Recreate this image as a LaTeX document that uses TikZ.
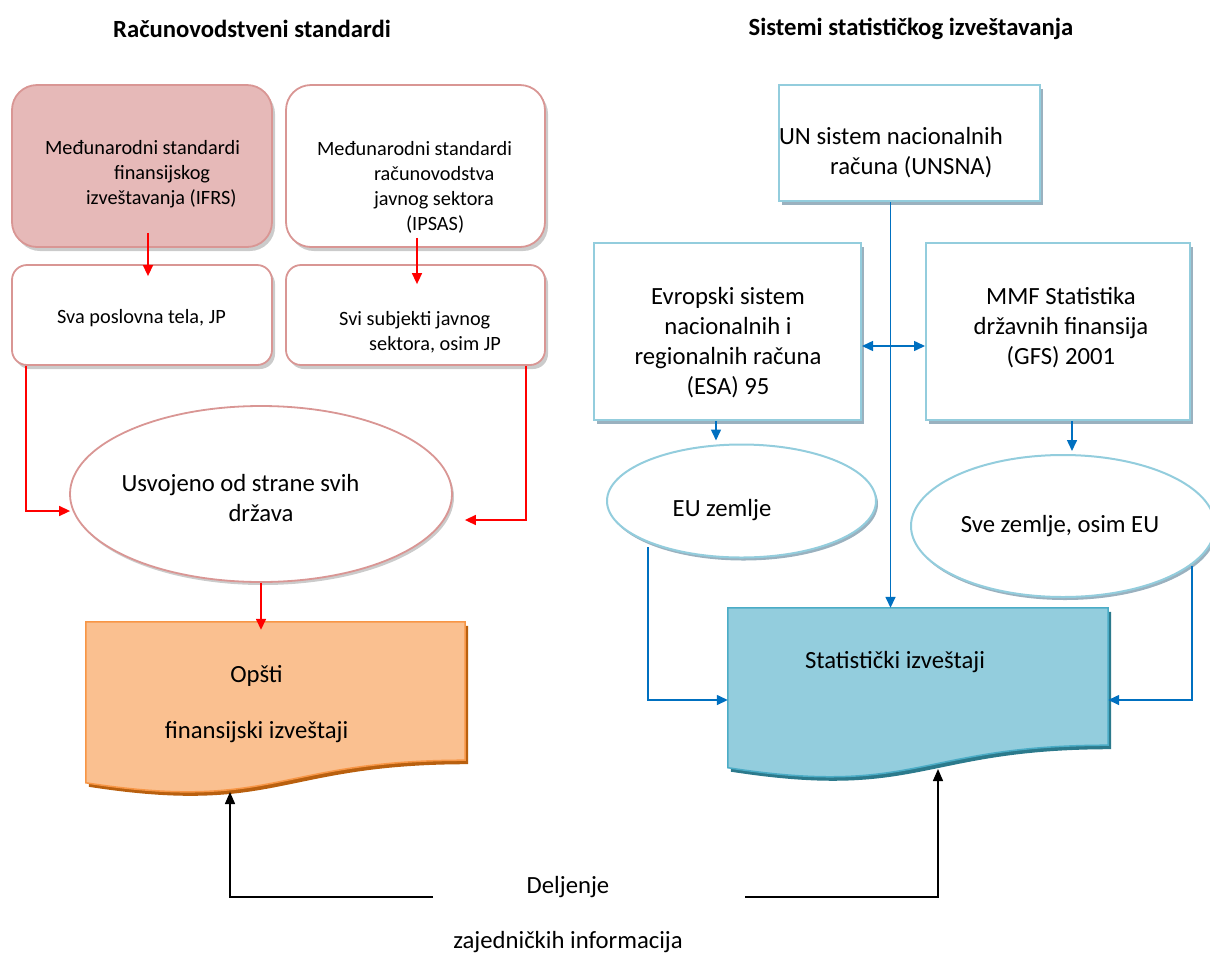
\documentclass[tikz,border=0pt]{standalone}
\usepackage{fontspec}
\setmainfont{Carlito}
\usetikzlibrary{arrows.meta,calc,shapes.geometric,shadows}
\definecolor{pinkfill}{HTML}{E6B9B8}
\definecolor{pinkline}{HTML}{D99694}
\definecolor{blueline}{HTML}{93CDDD}
\definecolor{arrowblue}{HTML}{0070C0}
\definecolor{statfill}{HTML}{93CDDD}
\definecolor{statline}{HTML}{4BACC6}
\definecolor{statshadow}{HTML}{2C7A8C}
\definecolor{orfill}{HTML}{FAC090}
\definecolor{orline}{HTML}{F79646}
\definecolor{orshadow}{HTML}{B9600F}
\definecolor{blueshadow}{HTML}{8FA9B8}
\newcommand\fntA{\fontsize{24.7pt}{30pt}\selectfont}
\newcommand\fntB{\fontsize{20.3pt}{25pt}\selectfont}
\begin{document}
\begin{tikzpicture}[x=1pt,y=-1pt,
  redbox/.style={draw=pinkline, line width=1.8pt, rounded corners=25pt, inner sep=0pt,
    drop shadow={shadow xshift=3pt, shadow yshift=-4pt, fill=black!45, opacity=0.45}},
  redsmall/.style={redbox, rounded corners=15pt, fill=white},
  bluebox/.style={draw=blueline, line width=2pt, fill=white, inner sep=0pt,
    drop shadow={shadow xshift=3pt, shadow yshift=-4pt, fill=blueshadow, opacity=0.9}},
  redell/.style={ellipse, draw=pinkline, line width=1.8pt, fill=white, inner sep=0pt,
    drop shadow={shadow xshift=2pt, shadow yshift=-3pt, fill=black!45, opacity=0.45}},
  blueell/.style={ellipse, draw=blueline, line width=2pt, fill=white, inner sep=0pt,
    drop shadow={shadow xshift=2pt, shadow yshift=-3pt, fill=blueshadow, opacity=0.9}},
  docbase/.style={inner sep=0pt, draw=none},
  txt/.style={inner sep=0pt, font=\fntA},
  txtb/.style={inner sep=0pt, font=\fntB},
  redarr/.style={draw=red, line width=1.5pt, -{Triangle[length=11pt,width=10pt]}},
  bluearr/.style={draw=arrowblue, line width=1.5pt, -{Triangle[length=11pt,width=10pt]}},
  blk/.style={draw=black, line width=1.5pt, -{Triangle[length=12pt,width=10pt]}}
]
\useasboundingbox (0,0) rectangle (1210,954);
\clip (0,0) rectangle (1210,954);

% headings
\node[txt, font=\fntA\bfseries] (headL) at (252,29) {Računovodstveni standardi};
\node[txt, font=\fntA\bfseries] (headR) at (911,29) {Sistemi statističkog izveštavanja};

% left boxes
\node[redbox, fill=pinkfill, minimum width=260pt, minimum height=162pt] (ifrs) at (142,166) {};
\node[redbox, fill=white, minimum width=259pt, minimum height=162pt] (ipsas) at (415.5,166) {};
\node[redsmall, minimum width=260pt, minimum height=100pt] (sva) at (142,315) {};
\node[redsmall, minimum width=259pt, minimum height=100pt] (svi) at (415.5,315) {};
\node[redell, minimum width=382pt, minimum height=176pt] (usv) at (261,494) {};

% Opsti document shape
\node[docbase, minimum width=379pt, minimum height=138pt] (opsti) at (275.5,691) {};
\path[fill=orfill, draw=orline, line width=1.5pt,
  drop shadow={shadow xshift=3pt, shadow yshift=-4pt, fill=orshadow, opacity=1}]
  (opsti.north west) -- (opsti.north east) -- (opsti.south east)
  .. controls (opsti.south) and ($(opsti.south)+(0,52)$) .. ($(opsti.south west)+(0,22.6)$) -- cycle;

% right boxes
\node[bluebox, minimum width=261pt, minimum height=116pt] (unsna) at (909.5,143) {};
\node[bluebox, minimum width=267pt, minimum height=177pt] (esa) at (727.5,331.5) {};
\node[bluebox, minimum width=264pt, minimum height=177pt] (mmf) at (1058,331.5) {};
\node[blueell, minimum width=269pt, minimum height=113pt] (eu) at (741.5,501) {};
\node[blueell, minimum width=304pt, minimum height=142pt] (sve) at (1063,526) {};

% Statisticki document shape
\node[docbase, minimum width=380pt, minimum height=137pt] (stat) at (918,676.5) {};
\path[fill=statfill, draw=statline, line width=1.5pt,
  drop shadow={shadow xshift=3pt, shadow yshift=-4pt, fill=statshadow, opacity=1}]
  (stat.north west) -- (stat.north east) -- (stat.south east)
  .. controls (stat.south) and ($(stat.south)+(0,52)$) .. ($(stat.south west)+(0,22.5)$) -- cycle;

% texts
\node[txtb, align=left] (ifrsT) at (142.5,174.3) {Međunarodni standardi\\\hspace*{69pt}finansijskog\\\hspace*{41pt}izveštavanja (IFRS)};
\node[txtb, align=left] (ipsasT) at (414.5,187) {Međunarodni standardi\\\hspace*{57pt}računovodstva\\\hspace*{57pt}javnog sektora\\\hspace*{89pt}(IPSAS)};
\node[txtb] (svaT) at (141.5,318) {Sva poslovna tela, JP};
\node[txtb, align=left] (sviT) at (420,332.5) {Svi subjekti javnog\\\hspace*{30pt}sektora, osim JP};
\node[txt, align=left] (usvT) at (240.5,498) {Usvojeno od strane svih\\\hspace*{107pt}država};
\node[txt, align=center] (opstiT) at (256.5,704) {Opšti\\[26pt]finansijski izveštaji};
\node[txt, align=left] (unsnaT) at (891,153) {UN sistem nacionalnih\\\hspace*{51pt}računa (UNSNA)};
\node[txt, align=center] (esaT) at (728,343) {Evropski sistem\\nacionalnih i\\regionalnih računa\\(ESA) 95};
\node[txt, align=center] (mmfT) at (1061,328) {MMF Statistika\\državnih finansija\\(GFS) 2001};
\node[txt] (euT) at (722,510) {EU zemlje};
\node[txt] (sveT) at (1060,526) {Sve zemlje, osim EU};
\node[txt] (statT) at (895,662) {Statistički izveštaji};
\node[txt, align=center] (shareT) at (568,914.5) {Deljenje\\[25pt]zajedničkih informacija};

% free ends of the sharing connectors
\coordinate (shareL) at (433,897);
\coordinate (shareR) at (745,897);
\coordinate (opstiB) at (230,792);
\coordinate (statB) at (938,769);

% red connectors
\draw[redarr] ([xshift=6pt,yshift=15pt]ifrs.south) -- ([xshift=6pt,yshift=-12pt]sva.north);
\draw[redarr] ([xshift=1.5pt,yshift=10pt]ipsas.south) -- ([xshift=1.5pt,yshift=-20pt]svi.north);
\draw[redarr] ([xshift=15pt]sva.south west) |- ([xshift=1pt,yshift=-17pt]usv.west);
\draw[redarr] ([xshift=-20pt]svi.south east) |- ([xshift=12pt,yshift=-26pt]usv.east);
\draw[redarr] (usv.south) -- ([yshift=-8pt]usv.south |- opsti.north);

% blue connectors
\draw[bluearr] ($(unsna.south)+(-19,0)$) -- ($(unsna.south |- stat.north)+(-19,0)$);
\draw[bluearr] ($(esa.south)+(-11.5,0)$) -- ($(esa.south |- eu.north)+(-11.5,-3)$);
\draw[bluearr] ($(mmf.south)+(14,0)$) -- ($(mmf.south |- sve.north)+(14,-3)$);
\draw[bluearr, {Triangle[length=11pt,width=10pt]}-{Triangle[length=11pt,width=10pt]}] ($(esa.east)+(0,14.5)$) -- ($(mmf.west)+(0,14.5)$);
\draw[bluearr] ($(eu.center)+(-93.5,46)$) |- ($(stat.west)+(0,23.5)$);
\draw[bluearr] ($(sve.center)+(129,40)$) |- ($(stat.east)+(0,23.5)$);

% black connectors
\draw[blk] (shareL) -| (opstiB);
\draw[blk] (shareR) -| (statB);
\end{tikzpicture}
\end{document}
